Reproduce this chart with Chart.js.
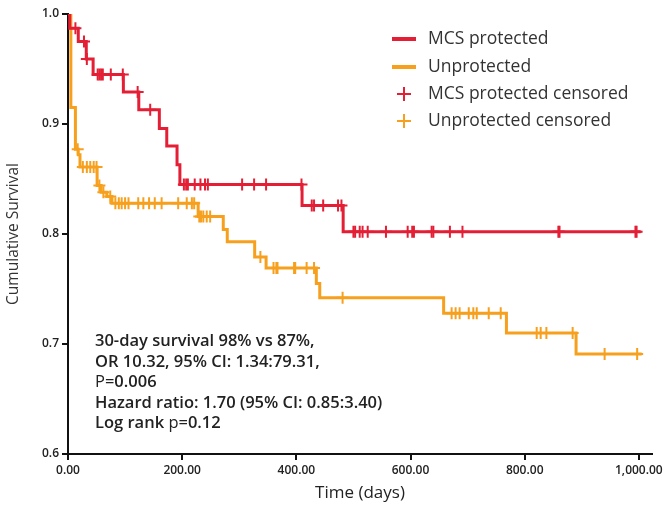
<!DOCTYPE html>
<html>
<head>
<meta charset="utf-8">
<script src="https://cdn.jsdelivr.net/npm/chart.js@4.4.1/dist/chart.umd.min.js"></script>
<style>
  html, body { margin: 0; padding: 0; background: #fff; }
</style>
</head>
<body>
<canvas id="kmChart" width="667" height="507"></canvas>
<script>
// Kaplan-Meier curves: time (days) where the step lands, and survival after it
const mcsTimes = [0, 3, 18, 32, 44, 97, 124, 160, 173, 191, 196, 410, 482, 1003];
const mcsSurv  = [1.0, 0.987, 0.975, 0.959, 0.945, 0.929, 0.913, 0.896, 0.880, 0.863, 0.845, 0.826, 0.802, 0.802];
const mcsCensored = [13, 28, 33, 52, 55, 58, 61, 75, 96, 122, 144, 203, 207, 210, 222, 232, 240, 245,
  305, 326, 347, 409, 427, 431, 447, 473, 479, 500, 503, 511, 516, 525, 557, 595, 603, 606, 637, 640,
  669, 691, 859, 861, 994, 996];

const unpTimes = [0, 5, 13, 18, 21, 51, 58, 68, 77, 228, 272, 279, 327, 347, 435, 441, 658, 768, 890, 1005];
const unpSurv  = [1.0, 0.915, 0.877, 0.872, 0.861, 0.844, 0.838, 0.834, 0.828, 0.816, 0.804, 0.793, 0.779,
  0.769, 0.755, 0.742, 0.728, 0.710, 0.691, 0.691];
const unpCensored = [17, 26, 33, 39, 45, 50, 55, 62, 74, 83, 89, 94, 100, 106, 123, 132, 142, 152, 164,
  193, 208, 217, 221, 230, 233, 237, 243, 249, 337, 360, 365, 367, 396, 398, 418, 431, 481, 672, 679,
  686, 702, 710, 716, 737, 758, 821, 828, 838, 884, 940, 997];

const xTickValues = [0, 200, 400, 600, 800, 1000];
const yTickValues = [0.6, 0.7, 0.8, 0.9, 1.0];

const seriesLabels = ['MCS protected', 'Unprotected', 'MCS protected censored', 'Unprotected censored'];

const statLines = [
  [['30-day survival 98% vs 87%,', 600]],
  [['OR 10.32, 95% CI: 1.34:79.31,', 600]],
  [['P=', 400], ['0.006', 600]],
  [['Hazard ratio: 1.70 (95% CI: 0.85:3.40)', 600]],
  [['Log rank ', 600], ['p=', 400], ['0.12', 600]]
];

const RED = '#e41f35';
const ORANGE = '#f7a01e';
const FONT = '"Open Sans", "DejaVu Sans", sans-serif';

function toPoints(times, surv) {
  return times.map((t, i) => ({ x: t, y: surv[i] }));
}

// censored marks sit on the curve at their time
function survAt(times, surv, t) {
  let s = surv[0];
  for (let i = 0; i < times.length; i++) {
    if (times[i] <= t) s = surv[i];
  }
  return s;
}

const legendPlugin = {
  id: 'kmLegend',
  afterDraw(chart) {
    const ctx = chart.ctx;
    const rows = [39, 67, 94, 121];
    ctx.save();
    chart.data.datasets.forEach((ds, i) => {
      const y = rows[i];
      ctx.strokeStyle = ds.borderColor;
      if (ds.type === 'scatter') {
        ctx.lineWidth = 2;
        ctx.beginPath();
        ctx.moveTo(397, y); ctx.lineTo(411, y);
        ctx.moveTo(404, y - 7); ctx.lineTo(404, y + 7);
        ctx.stroke();
      } else {
        ctx.lineWidth = 4;
        ctx.beginPath();
        ctx.moveTo(392, y); ctx.lineTo(416, y);
        ctx.stroke();
      }
      ctx.fillStyle = '#333';
      ctx.font = '17.5px ' + FONT;
      ctx.textBaseline = 'middle';
      ctx.fillText(ds.label, 428, y);
    });
    ctx.restore();
  }
};

const statsPlugin = {
  id: 'kmStats',
  afterDraw(chart) {
    const ctx = chart.ctx;
    ctx.save();
    ctx.fillStyle = '#222';
    ctx.textBaseline = 'alphabetic';
    statLines.forEach((parts, i) => {
      let x = 95;
      const y = 346 + i * 20.5;
      parts.forEach(([txt, w]) => {
        ctx.font = w + ' 16.5px ' + FONT;
        ctx.fillText(txt, x, y);
        x += ctx.measureText(txt).width;
      });
    });
    ctx.restore();
  }
};

const tickFont = { family: FONT, size: 12, weight: '600' };

new Chart(document.getElementById('kmChart'), {
  type: 'line',
  data: {
    datasets: [
      {
        label: seriesLabels[0],
        data: toPoints(mcsTimes, mcsSurv),
        borderColor: RED,
        borderWidth: 3,
        stepped: 'before',
        pointRadius: 0,
        fill: false,
        order: 2
      },
      {
        label: seriesLabels[1],
        data: toPoints(unpTimes, unpSurv),
        borderColor: ORANGE,
        borderWidth: 3,
        stepped: 'before',
        pointRadius: 0,
        fill: false,
        order: 3
      },
      {
        type: 'scatter',
        label: seriesLabels[2],
        data: mcsCensored.map(t => ({ x: t, y: survAt(mcsTimes, mcsSurv, t) })),
        pointStyle: 'cross',
        pointRadius: 6,
        borderColor: RED,
        borderWidth: 2,
        showLine: false,
        order: 0
      },
      {
        type: 'scatter',
        label: seriesLabels[3],
        data: unpCensored.map(t => ({ x: t, y: survAt(unpTimes, unpSurv, t) })),
        pointStyle: 'cross',
        pointRadius: 6,
        borderColor: ORANGE,
        borderWidth: 2,
        showLine: false,
        order: 1
      }
    ]
  },
  options: {
    responsive: false,
    animation: false,
    layout: { padding: { top: 14, right: 15, left: 0, bottom: 0 } },
    plugins: {
      legend: { display: false },
      tooltip: { enabled: false }
    },
    scales: {
      x: {
        type: 'linear',
        min: 0,
        max: 1023,
        afterBuildTicks: s => { s.ticks = xTickValues.map(v => ({ value: v })); },
        afterFit: s => { s.height = 53; },
        ticks: {
          autoSkip: false,
          maxRotation: 0,
          padding: 3,
          color: '#222',
          font: tickFont,
          callback: v => v.toLocaleString('en-US', { minimumFractionDigits: 2, maximumFractionDigits: 2 })
        },
        grid: { drawOnChartArea: false, drawTicks: true, tickLength: 6, color: '#111', lineWidth: 2 },
        border: { color: '#111', width: 2 },
        title: { display: true, text: 'Time (days)', color: '#222', padding: { top: 5 }, font: { family: FONT, size: 17, weight: '500' } }
      },
      y: {
        min: 0.6,
        max: 1.0,
        afterBuildTicks: s => { s.ticks = yTickValues.map(v => ({ value: v })); },
        afterFit: s => { s.width = 68; },
        ticks: {
          padding: 3,
          color: '#222',
          font: tickFont,
          callback: v => v.toFixed(1)
        },
        grid: { drawOnChartArea: false, drawTicks: true, tickLength: 6, color: '#111', lineWidth: 2 },
        border: { color: '#111', width: 2 },
        title: { display: true, text: 'Cumulative Survival', color: '#333', padding: { bottom: 6 }, font: { family: FONT, size: 15.5, weight: '400' } }
      }
    }
  },
  plugins: [legendPlugin, statsPlugin]
});
</script>
</body>
</html>
